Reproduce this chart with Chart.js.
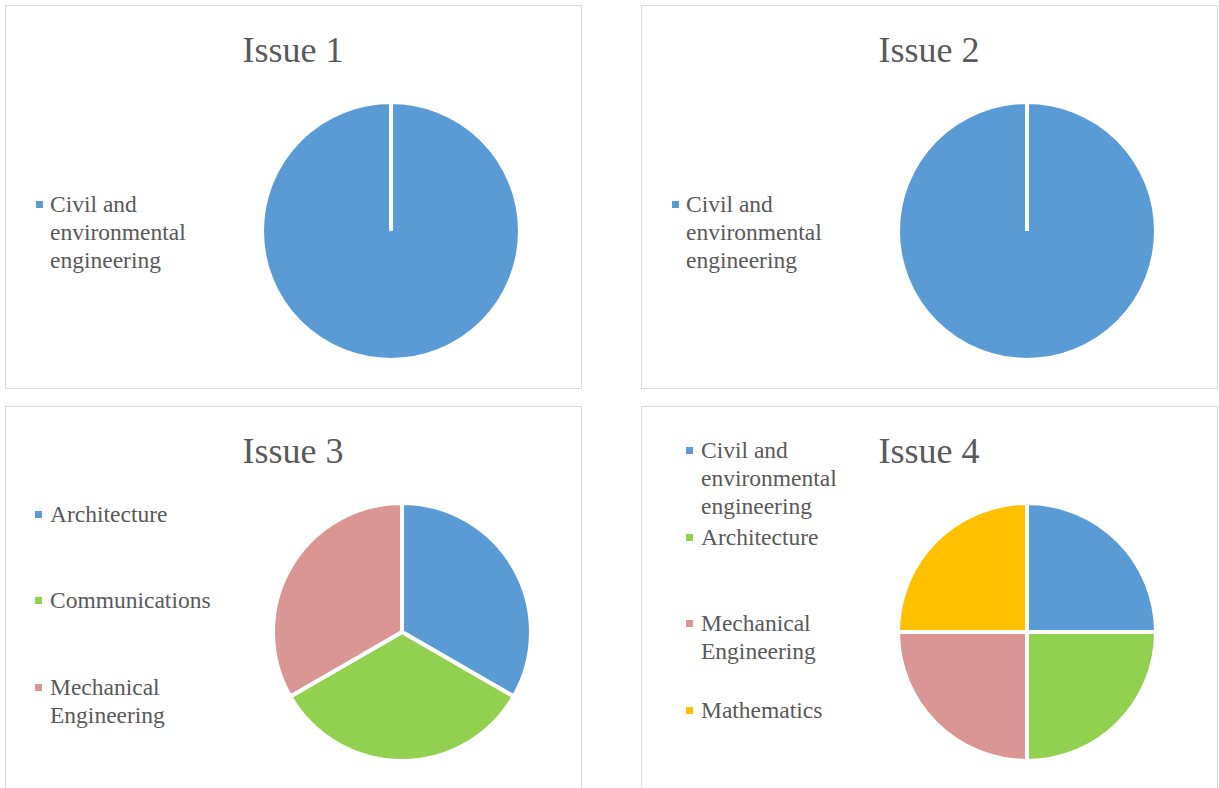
<!DOCTYPE html>
<html>
<head>
<meta charset="utf-8">
<script src="https://cdn.jsdelivr.net/npm/chart.js@4.4.0/dist/chart.umd.min.js"></script>
<style>
  html, body { margin: 0; padding: 0; background: #fff; }
  body { width: 1219px; height: 788px; position: relative; overflow: hidden;
         font-family: "Liberation Serif", "Times New Roman", serif; color: #595959; }
  .panel { position: absolute; border: 1.5px solid #d9d9d9; box-sizing: border-box; background: #fff; }
  .title { position: absolute; font-size: 36px; line-height: 36px; white-space: nowrap; transform: translateX(-50%); }
  .pie { position: absolute; width: 264px; height: 264px; }
  .item { position: absolute; font-size: 23.5px; line-height: 28px; width: 145px; }
  .mark { position: absolute; width: 7px; height: 7px; }
</style>
</head>
<body>
<script>
// chart data
let issue_titles = ['Issue 1', 'Issue 2', 'Issue 3', 'Issue 4'];

let issue1_labels = ['Civil and environmental engineering'];
let issue1_values = [1];

let issue2_labels = ['Civil and environmental engineering'];
let issue2_values = [1];

let issue3_labels = ['Architecture', 'Communications', 'Mechanical Engineering'];
let issue3_values = [1, 1, 1];

let issue4_labels = ['Civil and environmental engineering', 'Architecture', 'Mechanical Engineering', 'Mathematics'];
let issue4_values = [1, 1, 1, 1];

let issue1_colors = ['#5B9BD5'];
let issue2_colors = ['#5B9BD5'];
let issue3_colors = ['#5B9BD5', '#92D050', '#DA9694'];
let issue4_colors = ['#5B9BD5', '#92D050', '#DA9694', '#FFC000'];

// layout of the four panels (page pixels)
let panels = [
      { box: [5, 5, 577, 384], titleX: 293, titleY: 32, pie: [391, 231], markX: 36, textX: 50, tops: [190],
        labels: issue1_labels, values: issue1_values, colors: issue1_colors },
      { box: [641, 5, 577, 384], titleX: 929, titleY: 32, pie: [1027, 231], markX: 672, textX: 686, tops: [190],
        labels: issue2_labels, values: issue2_values, colors: issue2_colors },
      { box: [5, 406, 577, 400], titleX: 293, titleY: 433, pie: [402, 632], markX: 35, textX: 50, tops: [500, 586, 673],
        labels: issue3_labels, values: issue3_values, colors: issue3_colors },
      { box: [641, 406, 577, 400], titleX: 929, titleY: 433, pie: [1027, 632], markX: 686, textX: 701, tops: [436, 523, 609, 696],
        labels: issue4_labels, values: issue4_values, colors: issue4_colors }
];

for (let i = 0; i < panels.length; i++) {
      let p = panels[i];
      let panel = document.createElement('div');
      panel.className = 'panel';
      panel.style.left = p.box[0] + 'px';
      panel.style.top = p.box[1] + 'px';
      panel.style.width = p.box[2] + 'px';
      panel.style.height = p.box[3] + 'px';
      document.body.appendChild(panel);

      let title = document.createElement('div');
      title.className = 'title';
      title.textContent = issue_titles[i];
      title.style.left = p.titleX + 'px';
      title.style.top = p.titleY + 'px';
      document.body.appendChild(title);

      // legend
      for (let j = 0; j < p.labels.length; j++) {
            let mark = document.createElement('div');
            mark.className = 'mark';
            mark.style.background = p.colors[j];
            mark.style.left = p.markX + 'px';
            mark.style.top = (p.tops[j] + 11) + 'px';
            document.body.appendChild(mark);

            let item = document.createElement('div');
            item.className = 'item';
            item.textContent = p.labels[j];
            item.style.left = p.textX + 'px';
            item.style.top = p.tops[j] + 'px';
            document.body.appendChild(item);
      }

      let holder = document.createElement('div');
      holder.className = 'pie';
      holder.style.left = (p.pie[0] - 132) + 'px';
      holder.style.top = (p.pie[1] - 132) + 'px';
      holder.insertAdjacentHTML('afterBegin', `<canvas id="pie${i}" width="264" height="264"></canvas>`);
      document.body.appendChild(holder);

      new Chart(document.getElementById('pie' + i).getContext('2d'), {
            type: 'pie',
            data: {
                  labels: p.labels,
                  datasets: [{
                        data: p.values,
                        backgroundColor: p.colors,
                        borderColor: '#ffffff',
                        borderWidth: 4,
                        hoverOffset: 0,
                        radius: 129
                  }]
            },
            options: {
                  responsive: false,
                  animation: false,
                  events: [],
                  layout: { padding: 0 },
                  plugins: { legend: { display: false }, title: { display: false }, tooltip: { enabled: false } }
            }
      });
}
</script>
</body>
</html>
